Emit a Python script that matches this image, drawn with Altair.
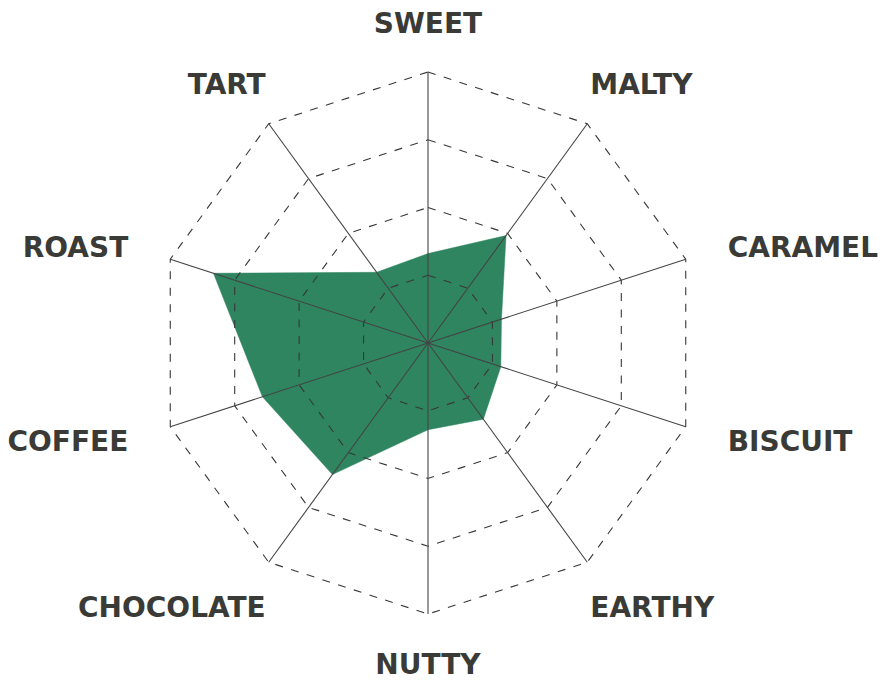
import math
import pandas as pd
import altair as alt

# ---- data ----
categories = ["SWEET", "MALTY", "CARAMEL", "BISCUIT", "EARTHY",
              "NUTTY", "CHOCOLATE", "COFFEE", "ROAST", "TART"]
values = [1.32, 1.96, 1.14, 1.13, 1.39, 1.28, 2.40, 2.57, 3.33, 1.29]
levels = [1, 2, 3, 4]
max_value = 4

# ---- layout / style ----
UNIT = 67.75          # px per value unit
W, H = 872, 672       # chart size (px)
CX, CY = 420, 335     # centre of radar in chart px
GREEN = "#2e8560"
LINE = "#444444"
DASH = "#383838"
TEXT = "#3a3a36"
FONT = "DejaVu Sans"

N = len(categories)
angles = [2 * math.pi * i / N for i in range(N)]

xs = alt.Scale(domain=[-CX / UNIT, (W - CX) / UNIT], nice=False, zero=False)
ys = alt.Scale(domain=[-(H - CY) / UNIT, CY / UNIT], nice=False, zero=False)

# filled series polygon
poly = pd.DataFrame({
    "cat": categories,
    "order": list(range(N)),
    "x": [v * math.sin(a) for v, a in zip(values, angles)],
    "y": [v * math.cos(a) for v, a in zip(values, angles)],
})

# dashed ring polygons
ring_rows = []
for lv in levels:
    for i, a in enumerate(angles):
        ring_rows.append({"level": lv, "order": i,
                          "x": lv * math.sin(a), "y": lv * math.cos(a)})
rings = pd.DataFrame(ring_rows)

# spokes
spokes = pd.DataFrame({
    "cat": categories,
    "x": [0.0] * N, "y": [0.0] * N,
    "x2": [max_value * math.sin(a) for a in angles],
    "y2": [max_value * math.cos(a) for a in angles],
})


def label_offset(a):
    s, c = math.sin(a), math.cos(a)
    if abs(s) < 0.1:
        return 0.0, (-39.5 if c > 0 else 59.5), "center"
    side = "left" if s > 0 else "right"
    sign = 1 if s > 0 else -1
    if abs(s) < 0.9:
        return 3.0 * sign, (-30.0 if c > 0 else 55.0), side
    return 42.0 * sign, (-2.0 if c > 0 else 24.0), side


lab_rows = []
for cat, a in zip(categories, angles):
    dx, dy, al = label_offset(a)
    lab_rows.append({
        "label": cat,
        "align": al,
        "x": max_value * math.sin(a) + dx / UNIT,
        "y": max_value * math.cos(a) - dy / UNIT,
    })
labels = pd.DataFrame(lab_rows)

fill = alt.Chart(poly).mark_line(
    interpolate="linear-closed", fill=GREEN, stroke=GREEN, strokeWidth=0.5
).encode(
    x=alt.X("x:Q", scale=xs, axis=None),
    y=alt.Y("y:Q", scale=ys, axis=None),
    order="order:Q",
)

ring = alt.Chart(rings).mark_line(
    interpolate="linear-closed", stroke=DASH, strokeWidth=1.1, strokeDash=[8, 8.5]
).encode(
    x=alt.X("x:Q", scale=xs, axis=None),
    y=alt.Y("y:Q", scale=ys, axis=None),
    detail="level:N",
    order="order:Q",
)

spoke = alt.Chart(spokes).mark_rule(color=LINE, strokeWidth=1.1).encode(
    x=alt.X("x:Q", scale=xs, axis=None),
    y=alt.Y("y:Q", scale=ys, axis=None),
    x2="x2:Q",
    y2="y2:Q",
)

text_layers = []
for al in ["left", "right", "center"]:
    text_layers.append(
        alt.Chart(labels).transform_filter(alt.datum.align == al).mark_text(
            align=al, baseline="alphabetic", font=FONT, fontWeight="bold",
            fontSize=28, color=TEXT
        ).encode(
            x=alt.X("x:Q", scale=xs, axis=None),
            y=alt.Y("y:Q", scale=ys, axis=None),
            text="label:N",
        )
    )

chart = alt.layer(fill, ring, spoke, *text_layers).properties(
    width=W, height=H,
    autosize=alt.AutoSizeParams(type="none"),
    padding=0,
    background="white",
).configure_view(stroke=None)

chart.save("out.html", embed_options={"renderer": "svg", "actions": False})
